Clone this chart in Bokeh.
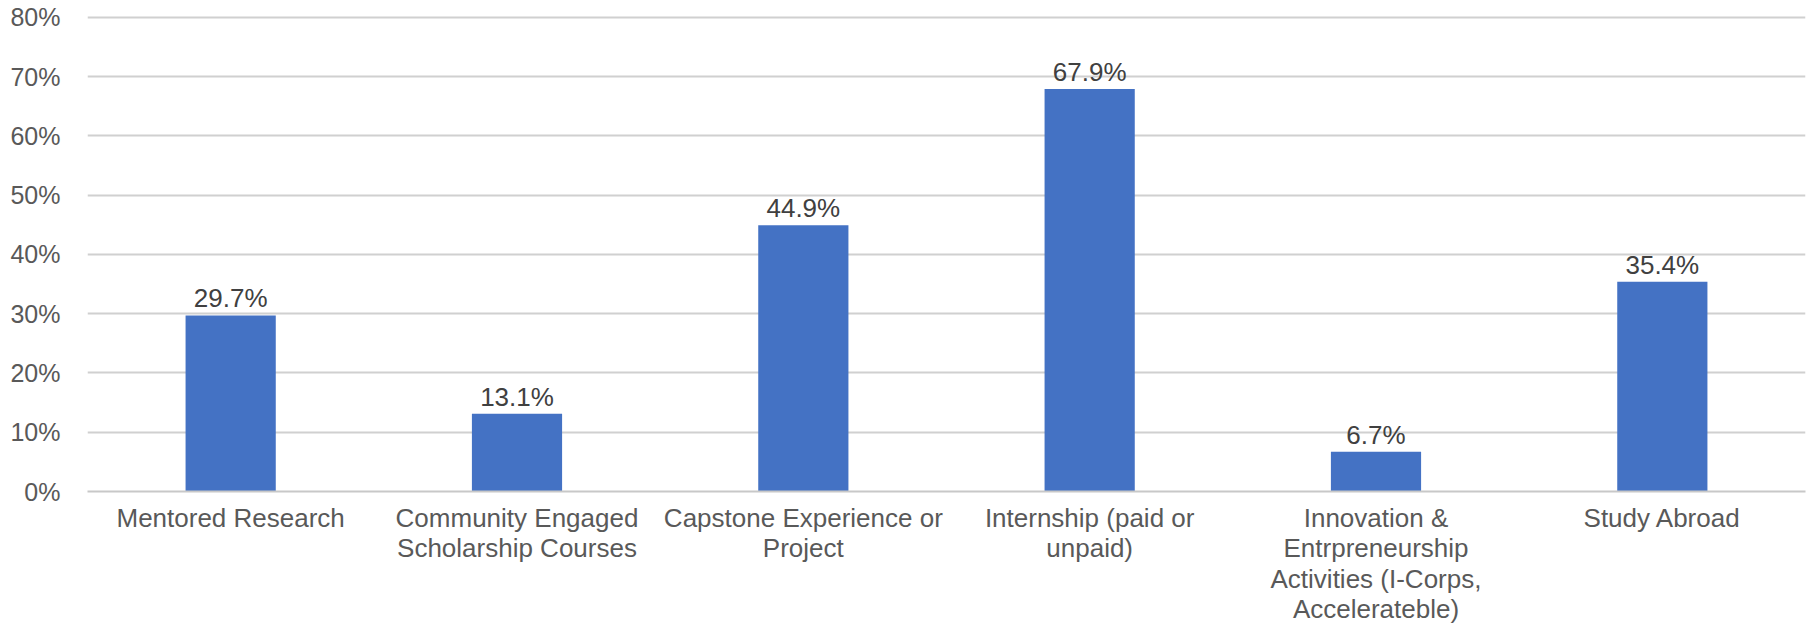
from bokeh.plotting import figure
from bokeh.models import FactorRange, NumeralTickFormatter, FixedTicker, ColumnDataSource, Range1d
from bokeh.core.properties import value
from bokeh.embed import file_html
from bokeh.resources import INLINE

categories = ["Mentored Research", "Community Engaged\nScholarship Courses",
              "Capstone Experience or\nProject", "Internship (paid or\nunpaid)",
              "Innovation &\nEntrpreneurship\nActivities (I-Corps,\nAccelerateble)",
              "Study Abroad"]
values = [0.297, 0.131, 0.449, 0.679, 0.067, 0.354]
y_ticks = [0, 0.1, 0.2, 0.3, 0.4, 0.5, 0.6, 0.7, 0.8]

FONT = "Liberation Sans"
src = ColumnDataSource(dict(cat=categories, val=values,
                            lab=[f"{v*100:.1f}%" for v in values]))

p = figure(x_range=FactorRange(*categories, range_padding=0), y_range=Range1d(0, 0.803),
           width=1806, height=627, output_backend="svg", toolbar_location=None,
           min_border_left=87, min_border_right=1, min_border_top=15, min_border_bottom=134)
p.outline_line_color = None

p.vbar(x="cat", top="val", width=0.315, source=src, color="#4472C4", line_color=None)
p.text(x="cat", y="val", text="lab", source=src, y_offset=-17,
       text_align="center", text_baseline="alphabetic",
       text_font=value(FONT), text_font_size="26px", text_color="#404040")

p.yaxis.ticker = FixedTicker(ticks=y_ticks)
p.yaxis.formatter = NumeralTickFormatter(format="0%")
p.yaxis.axis_line_color = None
p.yaxis.major_tick_line_color = None
p.yaxis.minor_tick_line_color = None
p.yaxis.major_label_text_font = FONT
p.yaxis.major_label_text_font_size = "25px"
p.yaxis.major_label_text_color = "#595959"
p.yaxis.major_label_standoff = 21

p.xaxis.axis_line_color = "#C8C8C8"
p.xaxis.axis_line_width = 2
p.xaxis.major_tick_line_color = None
p.xaxis.minor_tick_line_color = None
p.xaxis.major_label_text_font = FONT
p.xaxis.major_label_text_font_size = "26px"
p.xaxis.major_label_text_color = "#595959"
p.xaxis.major_label_text_line_height = 1.02
p.xaxis.major_label_standoff = 5
p.xaxis.major_label_orientation = "horizontal"

p.xgrid.grid_line_color = None
p.ygrid.grid_line_color = "#D0D0D0"
p.ygrid.grid_line_width = 2

open("out.html", "w").write(file_html(p, INLINE))
